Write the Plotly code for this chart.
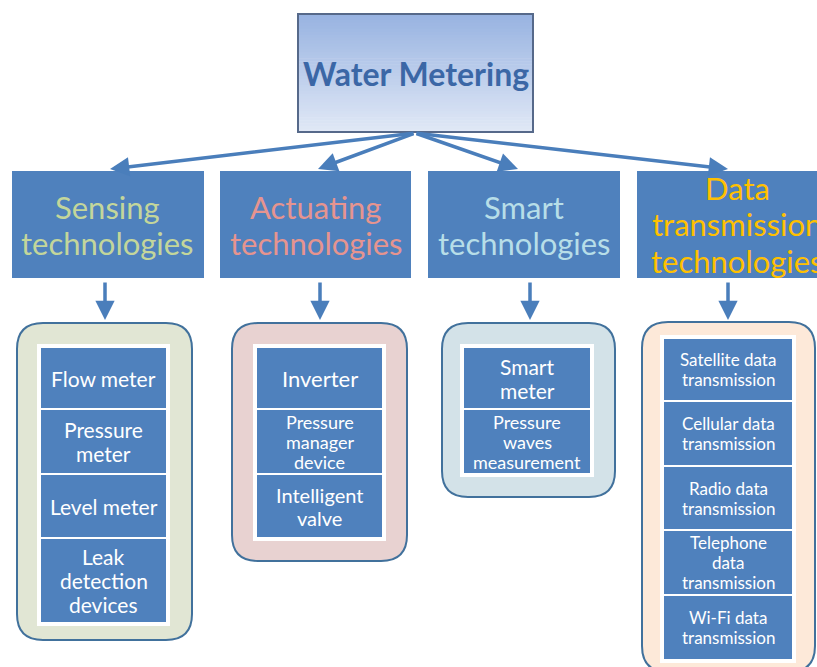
import plotly.graph_objects as go

# ---------------- data ----------------
title_text = "Water Metering"
categories = ["Sensing<br>technologies", "Actuating<br>technologies",
              "Smart<br>technologies", "Data<br>transmission<br>technologies"]
sensing_items = ["Flow meter", "Pressure<br>meter", "Level meter", "Leak<br>detection<br>devices"]
actuating_items = ["Inverter", "Pressure<br>manager<br>device", "Intelligent<br>valve"]
smart_items = ["Smart<br>meter", "Pressure<br>waves<br>measurement"]
data_items = ["Satellite data<br>transmission", "Cellular data<br>transmission",
              "Radio data<br>transmission", "Telephone<br>data<br>transmission",
              "Wi-Fi data<br>transmission"]
groups = [sensing_items, actuating_items, smart_items, data_items]

# ---------------- layout / style ----------------
W, H = 817, 667
FONT = "Lato"
BLUE = "#4f81bd"
ARROW = "#4a7ebb"
cat_colors = ["#c3d69b", "#e6948f", "#b7dee8", "#ffc000"]
cont_fill = ["#e1e6d4", "#e8d2d1", "#d3e2e8", "#fde9d9"]

cat_boxes = [(12, 171, 204, 278), (220, 171, 411, 278), (428, 171, 620, 278), (637, 171, 840, 278)]
cat_text_x = [107, 316, 524, 737]
cat_text_cy = [225, 225, 225, 224]
cont_boxes = [(17, 323, 192, 640), (232, 323, 407, 561), (442, 323, 615, 497), (642, 322, 815, 672)]
item_x = [(40, 167), (256, 383), (463, 591), (663, 793)]
item_bounds = [
    [347, 409, 474, 538, 623],
    [347, 409, 474, 538],
    [347, 409, 474],
    [338, 401, 466, 530, 595, 660],
]
item_font = [[21, 21, 21, 21], [22, 18, 20], [21, 18], [17, 17, 17, 17, 17]]
item_spacing = [[24, 24, 24, 24], [24, 20, 23], [24, 20], [20, 20, 20, 20, 20]]
down_x = [105, 320, 530, 728]
fan_tip = [(110, 169), (318, 169), (518, 169), (728, 169)]
fan_origin = (415, 133)

fig = go.Figure()
shapes = []
ann = []


def add_lines(x, cy, text, size, spacing, color):
    lines = text.split("<br>")
    n = len(lines)
    for i, ln in enumerate(lines):
        ann.append(dict(x=x, y=cy + (i - (n - 1) / 2) * spacing, text=ln, showarrow=False,
                        xref="x", yref="y",
                        font=dict(family=FONT, size=size, color=color)))


# top box with vertical gradient
tx0, ty0, tx1, ty1 = 298, 14, 533, 132
c_top = (152, 179, 225)
c_bot = (224, 232, 246)
N = 40
for i in range(N):
    t = i / (N - 1)
    c = tuple(int(round(c_top[k] + (c_bot[k] - c_top[k]) * t)) for k in range(3))
    ya = ty0 + (ty1 - ty0) * i / N
    yb = ty0 + (ty1 - ty0) * (i + 1) / N + 0.6
    shapes.append(dict(type="rect", x0=tx0, x1=tx1, y0=ya, y1=min(yb, ty1),
                       fillcolor="rgb(%d,%d,%d)" % c, line=dict(width=0), layer="below"))
shapes.append(dict(type="rect", x0=tx0, x1=tx1, y0=ty0, y1=ty1,
                   line=dict(color="#56698a", width=2), fillcolor="rgba(0,0,0,0)"))
ann.append(dict(x=(tx0 + tx1) / 2, y=73, text="<b>" + title_text + "</b>", showarrow=False,
                font=dict(family=FONT, size=32, color="#3b67a6")))

# fan arrows
for (ex, ey) in fan_tip:
    ann.append(dict(x=ex, y=ey, ax=fan_origin[0], ay=fan_origin[1], axref="x", ayref="y",
                    xref="x", yref="y", text="", showarrow=True, arrowhead=2,
                    arrowsize=1.1, arrowwidth=3.5, arrowcolor=ARROW))


def rounded(x0, y0, x1, y1, r):
    return (f"M{x0+r},{y0} L{x1-r},{y0} Q{x1},{y0} {x1},{y0+r} L{x1},{y1-r} "
            f"Q{x1},{y1} {x1-r},{y1} L{x0+r},{y1} Q{x0},{y1} {x0},{y1-r} "
            f"L{x0},{y0+r} Q{x0},{y0} {x0+r},{y0} Z")


for g in range(4):
    bx0, by0, bx1, by1 = cat_boxes[g]
    shapes.append(dict(type="rect", x0=bx0, x1=bx1, y0=by0, y1=by1,
                       fillcolor=BLUE, line=dict(width=0)))
    add_lines(cat_text_x[g], cat_text_cy[g], categories[g], 31, 36.5, cat_colors[g])
    # down arrow
    ann.append(dict(x=down_x[g], y=320, ax=down_x[g], ay=281, axref="x", ayref="y",
                    xref="x", yref="y", text="", showarrow=True, arrowhead=2,
                    arrowsize=1.1, arrowwidth=3.5, arrowcolor=ARROW))
    # container
    cx0, cy0, cx1, cy1 = cont_boxes[g]
    shapes.append(dict(type="path", path=rounded(cx0, cy0, cx1, cy1, 26),
                       fillcolor=cont_fill[g], line=dict(color="#41719c", width=2)))
    ix0, ix1 = item_x[g]
    bnds = item_bounds[g]
    for j, txt in enumerate(groups[g]):
        ya, yb = bnds[j], bnds[j + 1]
        shapes.append(dict(type="rect", x0=ix0, x1=ix1, y0=ya, y1=yb,
                           fillcolor=BLUE, line=dict(color="white", width=2)))
        add_lines((ix0 + ix1) / 2, (ya + yb) / 2, txt, item_font[g][j],
                  item_spacing[g][j], "white")
    shapes.append(dict(type="rect", x0=ix0 - 2, x1=ix1 + 2, y0=bnds[0] - 2, y1=bnds[-1] + 2,
                       fillcolor="rgba(0,0,0,0)", line=dict(color="white", width=2)))

fig.update_layout(
    width=W, height=H, margin=dict(l=0, r=0, t=0, b=0),
    paper_bgcolor="white", plot_bgcolor="white",
    xaxis=dict(range=[0, W], visible=False, fixedrange=True),
    yaxis=dict(range=[H, 0], visible=False, fixedrange=True),
    shapes=shapes, annotations=ann, showlegend=False,
)
fig.write_html("out.html", config={"displayModeBar": False},
               post_script="document.body.style.margin='0';document.body.style.overflow='hidden';")
